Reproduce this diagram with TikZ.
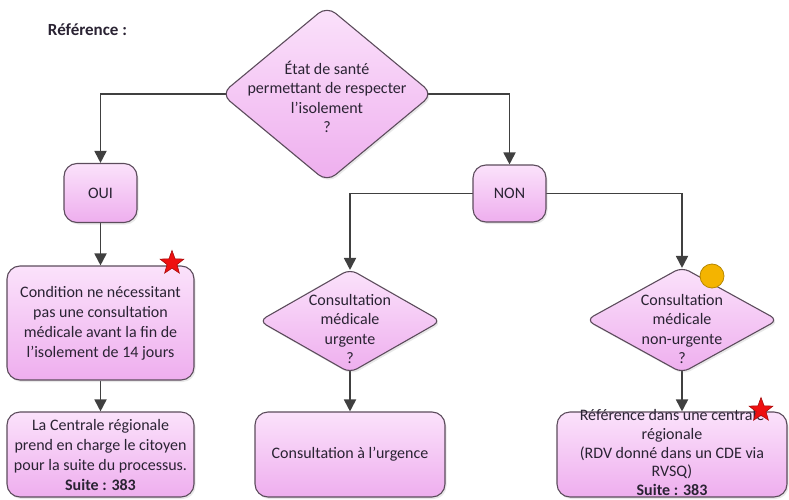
\documentclass[tikz,border=0pt]{standalone}
\usepackage{fontspec}
\setmainfont{Carlito}
\usetikzlibrary{shapes.geometric,arrows.meta,shadows,backgrounds}

\definecolor{pinktop}{HTML}{FBE2FB}
\definecolor{pinkbot}{HTML}{EEAEEE}
\definecolor{edgecol}{HTML}{5C4C5C}
\definecolor{wirecol}{HTML}{404040}
\definecolor{inkcol}{HTML}{2A2333}
\definecolor{starred}{HTML}{EE1010}
\definecolor{dotfill}{HTML}{F4B400}

\tikzset{
  softshadow/.style={drop shadow={opacity=0.18, shadow xshift=1.5pt, shadow yshift=-2pt}},
  flowbox/.style={draw=edgecol, line width=1.1pt, rounded corners=13pt,
    top color=pinktop, bottom color=pinkbot, softshadow,
    align=center, text=inkcol, inner sep=2pt,
    font=\fontsize{16}{20}\selectfont},
  decision/.style={diamond, draw=edgecol, line width=1.1pt, inner sep=0pt,
    top color=pinktop, bottom color=pinkbot, softshadow},
  decisiontext/.style={align=center, text=inkcol, inner sep=0pt,
    font=\fontsize{16}{19.5}\selectfont},
  link/.style={draw=wirecol, line width=1.8pt,
    -{Triangle[width=12pt,length=12pt]}},
  redstar/.style={star, star points=5, star point ratio=2.4, inner sep=0pt,
    minimum size=25pt, fill=starred, draw=starred!70!black, line width=0.6pt},
}

\begin{document}
\begin{tikzpicture}[x=1pt,y=-1pt]
\useasboundingbox (0,0) rectangle (789,500);

% heading
\node[text=inkcol, font=\bfseries\fontsize{17}{20}\selectfont] (ref) at (87.5,30) {Référence :};

% first decision
\node[decision, rounded corners=11pt, minimum width=212pt, minimum height=176pt] (q1) at (327,94) {};
\node[decisiontext] (q1t) at (327,97) {État de santé\\permettant de respecter\\l’isolement\\?};

% the two answers
\node[flowbox, minimum width=73pt, minimum height=59pt] (oui) at (100.5,193) {OUI};
\node[flowbox, minimum width=73pt, minimum height=57pt] (non) at (509.5,193.5) {NON};

% left branch
\node[flowbox, minimum width=187pt, minimum height=114pt] (cond) at (100.5,323)
  {Condition ne nécessitant\\pas une consultation\\médicale avant la fin de\\l’isolement de 14 jours};
\node[flowbox, minimum width=187pt, minimum height=85pt] (crss) at (100.5,454.5)
  {La Centrale régionale\\prend en charge le citoyen\\pour la suite du processus.\\\textbf{Suite : 383}};

% middle branch
\node[decision, rounded corners=8pt, minimum width=182pt, minimum height=104pt] (q2) at (350,321) {};
\node[decisiontext] (q2t) at (350,329) {Consultation\\médicale\\urgente\\?};
\node[flowbox, minimum width=190pt, minimum height=85pt] (urg) at (350,454.5) {Consultation à l’urgence};

% right branch
\node[decision, rounded corners=8pt, minimum width=192pt, minimum height=106pt] (q3) at (682,320) {};
\node[decisiontext] (q3t) at (682,329) {Consultation\\médicale\\non-urgente\\?};
\node[flowbox, minimum width=230pt, minimum height=85pt] (cde) at (672,454.5) {};
\node[decisiontext, font=\fontsize{16}{18.6}\selectfont] (cdet) at (672,452.5)
  {Référence dans une centrale\\régionale\\(RDV donné dans un CDE via\\RVSQ)\\\textbf{Suite : 383}};

% connectors
\begin{scope}[on background layer]
  \draw[link] (q1.center) -| (oui);
  \draw[link] (q1.center) -| (non);
  \draw[link] (oui) -- (cond);
  \draw[link] (cond) -- (crss);
  \draw[link] (non.center) -| ([yshift=-1.5pt]q2.north);
  \draw[link] (non.center) -| ([yshift=-1.5pt]q3.north);
  \draw[link] (q2.center) -- (urg);
  \draw[link] (q3.center) -- (q3.center |- cde.north);
\end{scope}

% markers
\node[redstar] (star1) at (172,263) {};
\node[redstar] (star2) at (761,410) {};
\node[circle, fill=dotfill, draw=dotfill!75!black, line width=0.8pt, minimum size=24pt, inner sep=0pt] (dot) at (712,276) {};
\end{tikzpicture}
\end{document}
